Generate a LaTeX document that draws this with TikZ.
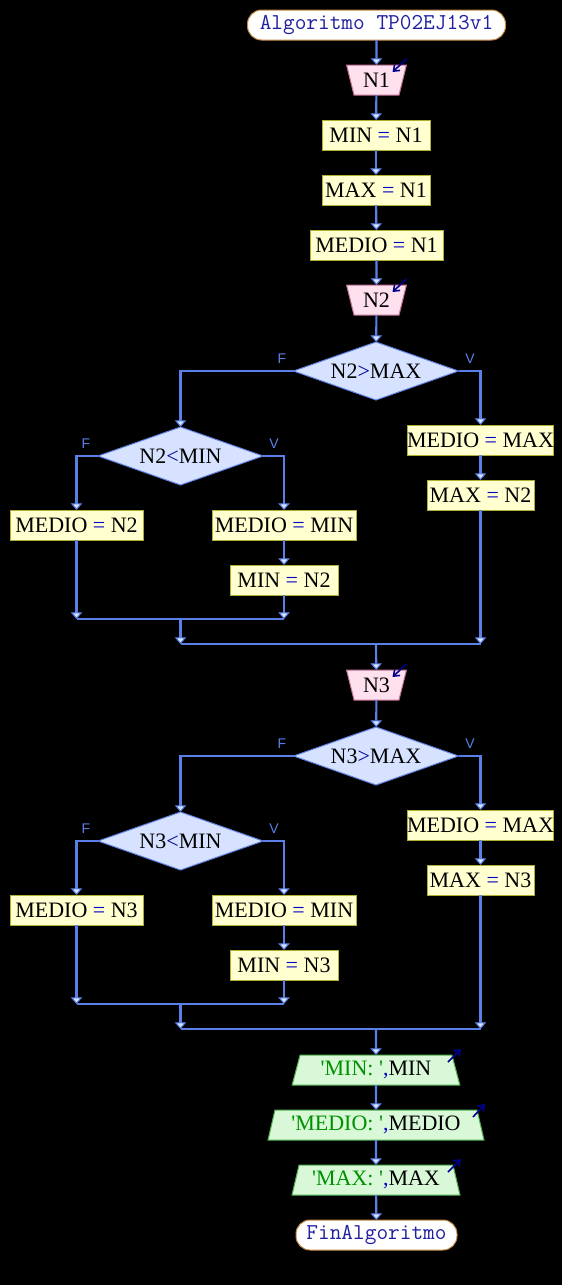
\documentclass[tikz,border=0pt]{standalone}
\usepackage{fontspec}
\setmainfont{Liberation Serif}
\newfontfamily\lblf{Liberation Sans}
\usetikzlibrary{shapes.geometric,arrows.meta}
\definecolor{linec}{RGB}{90,128,232}
\definecolor{tipfill}{RGB}{215,228,255}
\definecolor{procfill}{RGB}{255,255,208}
\definecolor{procdraw}{RGB}{176,176,48}
\definecolor{infill}{RGB}{255,224,238}
\definecolor{indraw}{RGB}{192,112,144}
\definecolor{decfill}{RGB}{214,226,255}
\definecolor{decdraw}{RGB}{96,128,224}
\definecolor{outfill}{RGB}{216,248,216}
\definecolor{outdraw}{RGB}{80,176,80}
\definecolor{termdraw}{RGB}{192,136,64}
\definecolor{termtext}{RGB}{32,32,160}
\definecolor{opc}{RGB}{0,0,200}
\definecolor{strc}{RGB}{0,144,0}
\definecolor{markc}{RGB}{0,0,144}
\def\pxu{0.75pt}
\newcommand{\qs}{\textquotesingle}
\begin{document}
\begin{tikzpicture}[x=0.75pt,y=-0.75pt,
 every node/.style={inner sep=0pt, outer sep=0pt, font=\fontsize{16.5}{18}\selectfont},
 flow/.style={draw=linec, line width=1.6pt},
 arr/.style={flow, -{Triangle[width=8.5pt,length=5pt,fill=tipfill,line width=0.8pt]}},
 term/.style={rectangle, draw=termdraw, fill=white, line width=0.75pt, rounded corners=10.5pt,
   minimum height=30*\pxu, minimum width=#1*\pxu, text=termtext, font=\ttfamily\fontsize{17}{18}\selectfont},
 proc/.style={rectangle, draw=procdraw, fill=procfill, line width=0.75pt,
   minimum height=30*\pxu, minimum width=#1*\pxu},
 inp/.style={trapezium, trapezium stretches=true, shape border rotate=180,
   trapezium left angle=73, trapezium right angle=73, draw=indraw, fill=infill, line width=0.75pt,
   minimum width=60*\pxu, minimum height=30*\pxu},
 outp/.style={trapezium, trapezium stretches=true,
   trapezium left angle=72, trapezium right angle=72, draw=outdraw, fill=outfill, line width=0.75pt,
   minimum width=#1*\pxu, minimum height=30*\pxu},
 dec/.style={diamond, aspect=2.85, draw=decdraw, fill=decfill, line width=0.75pt,
   minimum width=165*\pxu, minimum height=58*\pxu},
 lbl/.style={text=linec, font=\lblf\fontsize{10.5}{11}\selectfont},
 iomark/.style={draw=markc, line width=1.2pt, -{Straight Barb[length=4pt,width=6pt]}}
]
\fill[black] (0,0) rectangle (562,1285);
\useasboundingbox (0,0) rectangle (562,1285);

% top chain
\node[term=258] (start) at (376.5,25) {Algoritmo TP02EJ13v1};
\node[inp] (n1) at (376.5,80) {N1};
\node[proc=108] (p1) at (376,135) {MIN \textcolor{opc}{=} N1};
\node[proc=108] (p2) at (376,190) {MAX \textcolor{opc}{=} N1};
\node[proc=133] (p3) at (376.5,245) {MEDIO \textcolor{opc}{=} N1};
\node[inp] (n2) at (376.5,300) {N2};

% first block
\node[dec] (d1) at (376,371) {N2\textcolor{markc}{>}MAX};
\node[lbl] (f1) at (282,359) {F};
\node[lbl] (v1) at (470,359) {V};
\node[proc=145] (a1) at (480.5,440) {MEDIO \textcolor{opc}{=} MAX};
\node[proc=107] (a2) at (480.5,495) {MAX \textcolor{opc}{=} N2};
\node[dec] (d2) at (180.5,456) {N2\textcolor{markc}{<}MIN};
\node[lbl] (f2) at (86,444) {F};
\node[lbl] (v2) at (274,444) {V};
\node[proc=133] (b1) at (76.5,525) {MEDIO \textcolor{opc}{=} N2};
\node[proc=144] (c1) at (284,525) {MEDIO \textcolor{opc}{=} MIN};
\node[proc=108] (c2) at (284,580) {MIN \textcolor{opc}{=} N2};
\coordinate (j1) at (180.5,619);
\coordinate (j2) at (376,644);

\node[inp] (n3) at (376.5,685) {N3};

% second block
\node[dec] (d3) at (376,756) {N3\textcolor{markc}{>}MAX};
\node[lbl] (f3) at (282,744) {F};
\node[lbl] (v3) at (470,744) {V};
\node[proc=145] (a3) at (480.5,825) {MEDIO \textcolor{opc}{=} MAX};
\node[proc=107] (a4) at (480.5,880) {MAX \textcolor{opc}{=} N3};
\node[dec] (d4) at (180.5,841) {N3\textcolor{markc}{<}MIN};
\node[lbl] (f4) at (86,829) {F};
\node[lbl] (v4) at (274,829) {V};
\node[proc=133] (b3) at (76.5,910) {MEDIO \textcolor{opc}{=} N3};
\node[proc=144] (c3) at (284,910) {MEDIO \textcolor{opc}{=} MIN};
\node[proc=108] (c4) at (284,965) {MIN \textcolor{opc}{=} N3};
\coordinate (j3) at (180.5,1004);
\coordinate (j4) at (376,1029);

% outputs
\node[outp=168] (o1) at (376,1070) {\textcolor{strc}{\qs MIN:\ \qs}\textcolor{opc}{,}MIN};
\node[outp=216] (o2) at (376,1125) {\textcolor{strc}{\qs MEDIO:\ \qs}\textcolor{opc}{,}MEDIO};
\node[outp=168] (o3) at (376,1180) {\textcolor{strc}{\qs MAX:\ \qs}\textcolor{opc}{,}MAX};
\node[term=161] (fin) at (376.5,1235) {FinAlgoritmo};

% connectors top
\draw[arr] (start) -- (n1);
\draw[arr] (n1) -- (p1);
\draw[arr] (p1) -- (p2);
\draw[arr] (p2) -- (p3);
\draw[arr] (p3) -- (n2);
\draw[arr] (n2) -- (d1);

% block 1
\draw[arr] (d1.east) -| (a1.north);
\draw[arr] (a1) -- (a2);
\draw[arr] (d1.west) -| (d2.north);
\draw[arr] (d2.west) -| (b1.north);
\draw[arr] (d2.east) -| (c1.north);
\draw[arr] (c1) -- (c2);
\draw[arr] (b1) -- (b1 |- j1);
\draw[arr] (c2) -- (c2 |- j1);
\draw[flow] (b1 |- j1) -- (c2 |- j1);
\draw[arr] (j1) -- (j1 |- j2);
\draw[arr] (a2) -- (a2 |- j2);
\draw[flow] (j1 |- j2) -- (a2 |- j2);
\draw[arr] (j2) -- (n3);

% block 2
\draw[arr] (n3) -- (d3);
\draw[arr] (d3.east) -| (a3.north);
\draw[arr] (a3) -- (a4);
\draw[arr] (d3.west) -| (d4.north);
\draw[arr] (d4.west) -| (b3.north);
\draw[arr] (d4.east) -| (c3.north);
\draw[arr] (c3) -- (c4);
\draw[arr] (b3) -- (b3 |- j3);
\draw[arr] (c4) -- (c4 |- j3);
\draw[flow] (b3 |- j3) -- (c4 |- j3);
\draw[arr] (j3) -- (j3 |- j4);
\draw[arr] (a4) -- (a4 |- j4);
\draw[flow] (j3 |- j4) -- (a4 |- j4);
\draw[arr] (j4) -- (o1);

% outputs chain
\draw[arr] (o1) -- (o2);
\draw[arr] (o2) -- (o3);
\draw[arr] (o3) -- (fin);

% io marks
\draw[iomark] ([shift={(30,-21)}]n1.center) -- ([shift={(16,-8)}]n1.center);
\draw[iomark] ([shift={(30,-21)}]n2.center) -- ([shift={(16,-8)}]n2.center);
\draw[iomark] ([shift={(30,-21)}]n3.center) -- ([shift={(16,-8)}]n3.center);
\draw[iomark] ([shift={(72,-8)}]o1.center) -- ([shift={(85,-21)}]o1.center);
\draw[iomark] ([shift={(97,-8)}]o2.center) -- ([shift={(109,-21)}]o2.center);
\draw[iomark] ([shift={(72,-8)}]o3.center) -- ([shift={(85,-21)}]o3.center);
\end{tikzpicture}
\end{document}
